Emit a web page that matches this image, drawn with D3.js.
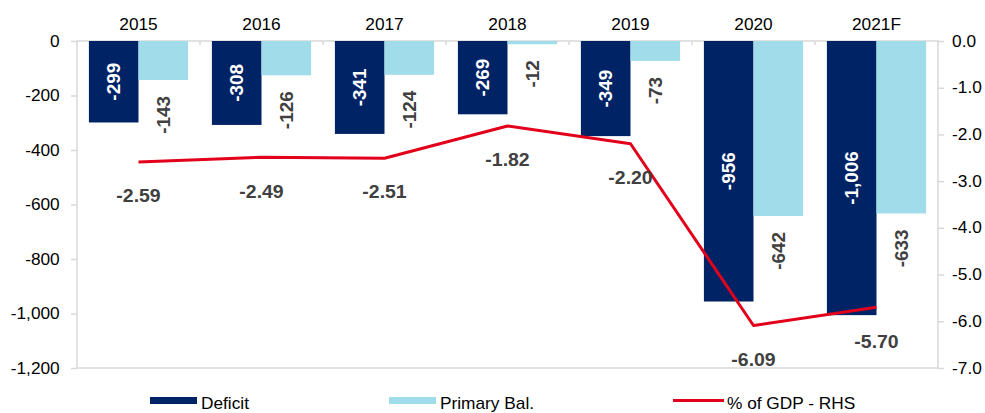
<!DOCTYPE html>
<html>
<head>
<meta charset="utf-8">
<script src="https://cdn.jsdelivr.net/npm/d3@7"></script>
<style>
    body { margin: 0; background: #fff; }
    text { font-family: "Liberation Sans", Arial, sans-serif; }
</style>
</head>
<body>
<div id="chart"></div>
<script>
const layout = {
    width: 985,
    height: 413,
    marginTop: 41,
    marginLeft: 77,
    marginRight: 47,
    chartHeight: 327
};
layout.chartWidth = layout.width - layout.marginLeft - layout.marginRight;

const years = ["2015", "2016", "2017", "2018", "2019", "2020", "2021F"];
const deficit = [-299, -308, -341, -269, -349, -956, -1006];
const primaryBal = [-143, -126, -124, -12, -73, -642, -633];
const gdpPct = [-2.59, -2.49, -2.51, -1.82, -2.20, -6.09, -5.70];
const leftTicks = [0, -200, -400, -600, -800, -1000, -1200];
const rightTicks = [0, -1, -2, -3, -4, -5, -6, -7];

const navy = "#002366";
const lightBlue = "#a1dcea";
const red = "#e2001a";
const axisGrey = "#d9d9d9";
const labelGrey = "#404040";

// plain hyphen instead of d3's unicode minus
const fmtInt = v => d3.format(",")(v).replace("\u2212", "-");
const fmt1 = v => d3.format(".1f")(v).replace("\u2212", "-");
const fmt2 = v => d3.format(".2f")(v).replace("\u2212", "-");

let svg = d3.select("#chart").append("svg")
    .attr("width", layout.width)
    .attr("height", layout.height);

let xScale = d3.scaleBand()
    .domain(years)
    .range([layout.marginLeft, layout.marginLeft + layout.chartWidth]);
let xSub = d3.scaleBand()
    .domain(["deficit", "primary"])
    .range([0, xScale.bandwidth()])
    .paddingInner(0)
    .paddingOuter(0.24);
let yLeft = d3.scaleLinear()
    .domain([0, -1200])
    .range([layout.marginTop, layout.marginTop + layout.chartHeight]);
let yRight = d3.scaleLinear()
    .domain([0, -7])
    .range([layout.marginTop, layout.marginTop + layout.chartHeight]);

// plot frame
svg.append("rect")
    .attr("x", layout.marginLeft)
    .attr("y", layout.marginTop)
    .attr("width", layout.chartWidth)
    .attr("height", layout.chartHeight)
    .attr("fill", "none")
    .attr("stroke", axisGrey)
    .attr("stroke-width", 1.5);

// left axis
let leftAxis = svg.append("g")
    .attr("transform", `translate(${layout.marginLeft},0)`)
    .call(d3.axisLeft(yLeft).tickValues(leftTicks).tickSize(6).tickPadding(10)
        .tickFormat(fmtInt));
leftAxis.select(".domain").remove();
leftAxis.selectAll("line").attr("stroke", axisGrey).attr("stroke-width", 1.5);
leftAxis.selectAll("text").attr("font-size", 16).attr("fill", "#000")
    .attr("font-family", "Liberation Sans, Arial, sans-serif")
    .attr("transform", "scale(1.08,1)");

// right axis
let rightAxis = svg.append("g")
    .attr("transform", `translate(${layout.marginLeft + layout.chartWidth},0)`)
    .call(d3.axisRight(yRight).tickValues(rightTicks).tickSize(6).tickPadding(7)
        .tickFormat(fmt1));
rightAxis.select(".domain").remove();
rightAxis.selectAll("line").attr("stroke", axisGrey).attr("stroke-width", 1.5);
rightAxis.selectAll("text").attr("font-size", 16).attr("fill", "#000")
    .attr("font-family", "Liberation Sans, Arial, sans-serif")
    .attr("transform", "scale(1.08,1)");

// category ticks along the zero line
let catTicks = d3.range(1, years.length).map(i => layout.marginLeft + i * xScale.step());
svg.selectAll(".cat-tick").data(catTicks).join("line")
    .attr("class", "cat-tick")
    .attr("x1", d => d).attr("x2", d => d)
    .attr("y1", layout.marginTop).attr("y2", layout.marginTop + 4)
    .attr("stroke", axisGrey).attr("stroke-width", 1.5);

// category labels
svg.selectAll(".cat-label").data(years).join("text")
    .attr("class", "cat-label")
    .attr("transform", d => `translate(${xScale(d) + xScale.bandwidth() / 2},30) scale(1.08,1)`)
    .attr("text-anchor", "middle")
    .attr("font-size", 16)
    .text(d => d);

// bars
let barData = years.map((y, i) => ({ year: y, deficit: deficit[i], primary: primaryBal[i], gdp: gdpPct[i] }));

svg.selectAll(".bar-deficit").data(barData).join("rect")
    .attr("class", "bar-deficit")
    .attr("x", d => xScale(d.year) + xSub("deficit"))
    .attr("y", yLeft(0))
    .attr("width", xSub.bandwidth())
    .attr("height", d => yLeft(d.deficit) - yLeft(0))
    .attr("fill", navy);

svg.selectAll(".bar-primary").data(barData).join("rect")
    .attr("class", "bar-primary")
    .attr("x", d => xScale(d.year) + xSub("primary"))
    .attr("y", yLeft(0))
    .attr("width", xSub.bandwidth())
    .attr("height", d => yLeft(d.primary) - yLeft(0))
    .attr("fill", lightBlue);

// deficit labels, centred in the bar
svg.selectAll(".lab-deficit").data(barData).join("text")
    .attr("class", "lab-deficit")
    .attr("transform", d => `translate(${xScale(d.year) + xSub("deficit") + xSub.bandwidth() / 2},${(yLeft(0) + yLeft(d.deficit)) / 2}) rotate(-90) scale(1.05,1)`)
    .attr("text-anchor", "middle")
    .attr("dominant-baseline", "central")
    .attr("font-size", 18)
    .attr("font-weight", "bold")
    .attr("fill", "#fff")
    .text(d => fmtInt(d.deficit));

// primary balance labels, just below the bar
svg.selectAll(".lab-primary").data(barData).join("text")
    .attr("class", "lab-primary")
    .attr("transform", d => `translate(${xScale(d.year) + xSub("primary") + xSub.bandwidth() / 2},${yLeft(d.primary) + 16}) rotate(-90) scale(1.05,1)`)
    .attr("text-anchor", "end")
    .attr("dominant-baseline", "central")
    .attr("font-size", 18)
    .attr("font-weight", "bold")
    .attr("fill", labelGrey)
    .text(d => fmtInt(d.primary));

// % of GDP line
let xMid = d => xScale(d.year) + xScale.bandwidth() / 2;
svg.append("path")
    .datum(barData)
    .attr("fill", "none")
    .attr("stroke", red)
    .attr("stroke-width", 3)
    .attr("stroke-linejoin", "round")
    .attr("d", d3.line().x(xMid).y(d => yRight(d.gdp)));

svg.selectAll(".lab-gdp").data(barData).join("text")
    .attr("class", "lab-gdp")
    .attr("transform", d => `translate(${xMid(d)},${yRight(d.gdp) + 34}) scale(1.08,1)`)
    .attr("text-anchor", "middle")
    .attr("dominant-baseline", "central")
    .attr("font-size", 18)
    .attr("font-weight", "bold")
    .attr("fill", labelGrey)
    .text(d => fmt2(d.gdp));

// legend
let legend = svg.append("g");
legend.append("rect").attr("x", 150).attr("y", 397).attr("width", 47).attr("height", 7).attr("fill", navy);
legend.append("text").attr("transform", "translate(201,409) scale(1.08,1)").attr("font-size", 16).text("Deficit");
legend.append("rect").attr("x", 389).attr("y", 397).attr("width", 47).attr("height", 7).attr("fill", lightBlue);
legend.append("text").attr("transform", "translate(440,409) scale(1.08,1)").attr("font-size", 16).text("Primary Bal.");
legend.append("line").attr("x1", 673).attr("x2", 724).attr("y1", 400.5).attr("y2", 400.5)
    .attr("stroke", red).attr("stroke-width", 3);
legend.append("text").attr("transform", "translate(727,409) scale(1.08,1)").attr("font-size", 16).text("% of GDP - RHS");
</script>
</body>
</html>
